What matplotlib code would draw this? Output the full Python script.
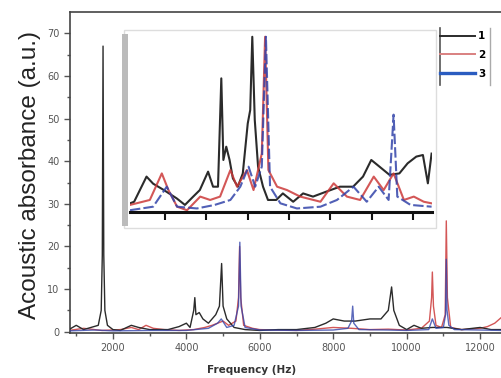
import matplotlib.pyplot as plt
from matplotlib.lines import Line2D
from matplotlib.patches import Rectangle

# main spectrum (Hz, a.u.)
freq_1 = [800, 1000, 1200, 1400, 1600, 1680, 1710, 1730, 1750, 1780, 1850, 2000, 2200, 2500,
          2700, 3000, 3500, 3800, 4000, 4100, 4200, 4230, 4260, 4350, 4450, 4600, 4800, 4900,
          4960, 5000, 5100, 5300, 5600, 6000, 6500, 7000, 7500, 7800, 8000, 8300, 8600, 9000,
          9300, 9500, 9590, 9650, 9800, 10000, 10200, 10400, 10700, 11100, 11500, 12000, 12300, 12600]
absorb_1 = [0.5, 1.5, 0.5, 1.0, 1.5, 5.0, 18.0, 67.0, 18.0, 5.0, 1.5, 0.5, 0.3, 1.5,
            1.0, 0.5, 0.5, 1.2, 2.0, 1.0, 5.0, 8.0, 4.0, 4.5, 3.0, 2.0, 4.0, 6.0,
            16.0, 6.0, 3.0, 1.0, 0.5, 0.3, 0.5, 0.5, 1.0, 2.0, 3.0, 2.5, 2.5, 3.0,
            3.0, 5.0, 10.5, 5.0, 1.5, 0.5, 1.5, 0.8, 1.0, 1.0, 0.5, 1.0, 0.5, 0.5]

freq_2 = [800, 1200, 1700, 2200, 2500, 2700, 2900, 3100, 3400, 3800, 4200, 4500, 4700, 4850,
          5000, 5150, 5350, 5420, 5450, 5480, 5560, 5800, 6000, 6500, 7000, 7500, 8000, 8500,
          9000, 9500, 10000, 10400, 10620, 10680, 10700, 10730, 10800, 10950, 11050, 11080,
          11110, 11200, 11500, 12000, 12200, 12400, 12600]
absorb_2 = [0.3, 0.8, 0.3, 0.5, 1.0, 0.5, 1.5, 0.8, 0.5, 0.3, 0.5, 1.0, 1.5, 2.0,
            2.5, 1.5, 2.5, 8.0, 20.0, 8.0, 1.5, 0.8, 0.5, 0.4, 0.3, 0.6, 1.0, 0.8,
            0.5, 0.6, 0.4, 0.8, 2.5, 8.0, 14.0, 6.0, 1.5, 1.0, 4.0, 26.0,
            8.0, 1.0, 0.5, 0.8, 1.2, 2.0, 3.5]

freq_3 = [800, 1500, 2000, 3000, 4000, 4600, 4850, 4950, 5100, 5300, 5420, 5456, 5490, 5600,
          6000, 7000, 8000, 8400, 8500, 8530, 8560, 8700, 9500, 10000, 10600, 10700, 10800,
          11000, 11060, 11080, 11100, 11150, 11300, 12000, 12600]
absorb_3 = [0.2, 0.4, 0.2, 0.3, 0.3, 0.8, 2.0, 3.0, 1.0, 1.5, 6.0, 21.0, 6.0, 1.0,
            0.4, 0.3, 0.4, 0.8, 2.5, 6.0, 2.0, 0.5, 0.4, 0.3, 0.5, 3.0, 0.8,
            1.0, 4.0, 17.0, 5.0, 1.5, 0.5, 0.4, 0.3]

# inset (arbitrary x units, % of inset height)
ins_x1 = [0.15, 0.25, 0.55, 0.71, 0.97, 1.28, 1.48, 1.68, 1.84, 2.04, 2.16, 2.28, 2.36, 2.41,
          2.48, 2.56, 2.64, 2.76, 2.88, 3.00, 3.06, 3.11, 3.17, 3.25, 3.37, 3.49, 3.69, 3.85,
          4.10, 4.34, 4.58, 4.90, 5.23, 5.55, 5.79, 5.99, 6.19, 6.43, 6.67, 6.87, 7.08, 7.24,
          7.36, 7.45]
ins_y1 = [4.9, 5.8, 20.0, 16.0, 12.4, 7.7, 4.0, 8.7, 12.4, 22.8, 14.3, 14.3, 75.5, 29.4,
          36.9, 29.4, 19.0, 14.3, 21.8, 50.0, 57.6, 99.0, 52.0, 25.6, 14.3, 6.8, 6.8, 10.5,
          5.8, 10.5, 8.7, 11.5, 14.3, 14.3, 20.0, 29.4, 25.6, 21.0, 21.8, 27.5, 31.3, 32.2,
          16.2, 33.0]
ins_x2 = [0.15, 0.63, 0.92, 1.08, 1.29, 1.53, 1.85, 2.09, 2.33, 2.58, 2.74, 2.98, 3.14, 3.34,
          3.42, 3.50, 3.71, 3.95, 4.27, 4.76, 5.08, 5.40, 5.72, 6.05, 6.29, 6.53, 6.78, 7.02,
          7.26, 7.45]
ins_y2 = [4.0, 6.8, 21.8, 12.4, 3.0, 1.0, 8.7, 6.8, 8.7, 23.7, 14.3, 23.7, 12.4, 33.0,
          99.0, 23.7, 14.3, 12.4, 8.7, 5.8, 16.2, 8.7, 6.8, 20.0, 12.4, 21.8, 6.8, 8.7,
          5.8, 4.9]
ins_x3 = [0.15, 0.71, 1.04, 1.29, 1.77, 2.20, 2.58, 2.82, 3.02, 3.18, 3.34, 3.44, 3.54, 3.79,
          4.19, 4.76, 5.16, 5.56, 5.88, 6.17, 6.41, 6.53, 6.62, 6.94, 7.45]
ins_y3 = [1.0, 3.0, 14.3, 3.0, 2.0, 4.0, 6.8, 14.3, 25.6, 14.3, 25.6, 99.0, 14.3, 4.9,
          2.0, 3.0, 6.8, 14.3, 5.8, 14.3, 6.8, 55.0, 8.7, 4.0, 3.0]

y_ticks = [0, 10, 20, 30, 40, 50, 60, 70]
x_ticks = [2000, 4000, 6000, 8000, 10000, 12000]
labels = ['1', '2', '3']

c_black = '#2b2b2b'
c_red = '#cc3a3a'
c_blue = '#3344aa'

fig = plt.figure(figsize=(5.01, 3.78), dpi=100)
W, H = 501, 378

ax = fig.add_axes([70 / W, 1 - 333 / H, 1 - 70 / W, (333 - 12) / H])
l1, = ax.plot(freq_1, absorb_1, color=c_black, lw=1.0, zorder=3)
l2, = ax.plot(freq_2, absorb_2, color=c_red, lw=1.0, alpha=0.85, zorder=2)
l3, = ax.plot(freq_3, absorb_3, color=c_blue, lw=1.0, alpha=0.8, zorder=4)
ax.set_xlim(830, 12570)
ax.set_ylim(-0.3, 75)
ax.set_xticks(x_ticks)
ax.set_xticks(range(1000, 13000, 2000), minor=True)
ax.set_yticks(y_ticks)
ax.set_yticks(range(5, 75, 10), minor=True)
ax.tick_params(colors='#555555', labelsize=7, length=4, width=1)
ax.tick_params(which='minor', length=2.5, width=1, colors='#555555')
ax.spines['right'].set_visible(False)
for s in ['left', 'top', 'bottom']:
    ax.spines[s].set_color('#444444')
    ax.spines[s].set_linewidth(1.2)
ax.set_xlabel('Frequency (Hz)', fontsize=7.5, fontweight='bold', color='#333333')
ax.xaxis.set_label_coords((252 - 70) / (W - 70), -0.1)

fig.text(30 / W, 1 - 175 / H, 'Acoustic absorbance (a.u.)', rotation=90,
         ha='center', va='center', fontsize=17.5, family='Liberation Sans', color='#222222')

# inset panel with a soft shadow
fig.patches.append(Rectangle((124 / W, 1 - 228 / H), 312 / W, 198 / H, transform=fig.transFigure,
                             facecolor='white', edgecolor='#dddddd', lw=1, zorder=5))
fig.patches.append(Rectangle((122 / W, 1 - 226 / H), 6 / W, 192 / H, transform=fig.transFigure,
                             facecolor='#bbbbbb', edgecolor='none', zorder=5))

ins = fig.add_axes([130 / W, 1 - 212 / H, 302 / W, 177 / H], zorder=6)
ins.patch.set_alpha(0)
ins.plot(ins_x1, ins_y1, color=c_black, lw=1.5)
ins.plot(ins_x2, ins_y2, color=c_red, lw=1.5, alpha=0.85)
ins.plot(ins_x3, ins_y3, color=c_blue, lw=1.5, alpha=0.85, ls=(0, (5, 1.5)))
ins.set_xlim(0.15, 7.46)
ins.set_ylim(0, 100)
ins.set_xticks([1, 2, 3, 4, 5, 6, 7])
ins.set_xticklabels([])
ins.set_yticks([])
ins.tick_params(axis='x', length=6, width=1.5, direction='out', color='#111111')
for s in ['left', 'top', 'right']:
    ins.spines[s].set_visible(False)
ins.spines['bottom'].set_linewidth(2.2)
ins.spines['bottom'].set_color('#111111')

# legend
leg = fig.legend([l1, l2, l3], labels, loc='upper left', bbox_to_anchor=(436 / W, 1 - 27 / H),
                 frameon=False, fontsize=7.5, handlelength=3.3, handletextpad=0.35,
                 labelspacing=0.85, borderaxespad=0,
                 prop={'weight': 'bold', 'size': 7.5})
for h in leg.legend_handles:
    h.set_linewidth(1.4)
    h.set_alpha(1)
leg.legend_handles[1].set_color('#d98080')
leg.legend_handles[2].set_color('#2a5cc0')
leg.legend_handles[2].set_linewidth(2.4)
fig.lines.append(Line2D([440 / W, 440 / W], [1 - 28 / H, 1 - 85 / H], transform=fig.transFigure,
                        color='#555555', lw=1.2))
fig.lines.append(Line2D([490 / W, 490 / W], [1 - 28 / H, 1 - 85 / H], transform=fig.transFigure,
                        color='#aaaaaa', lw=1.0))

fig.savefig('out.png', dpi=100)
